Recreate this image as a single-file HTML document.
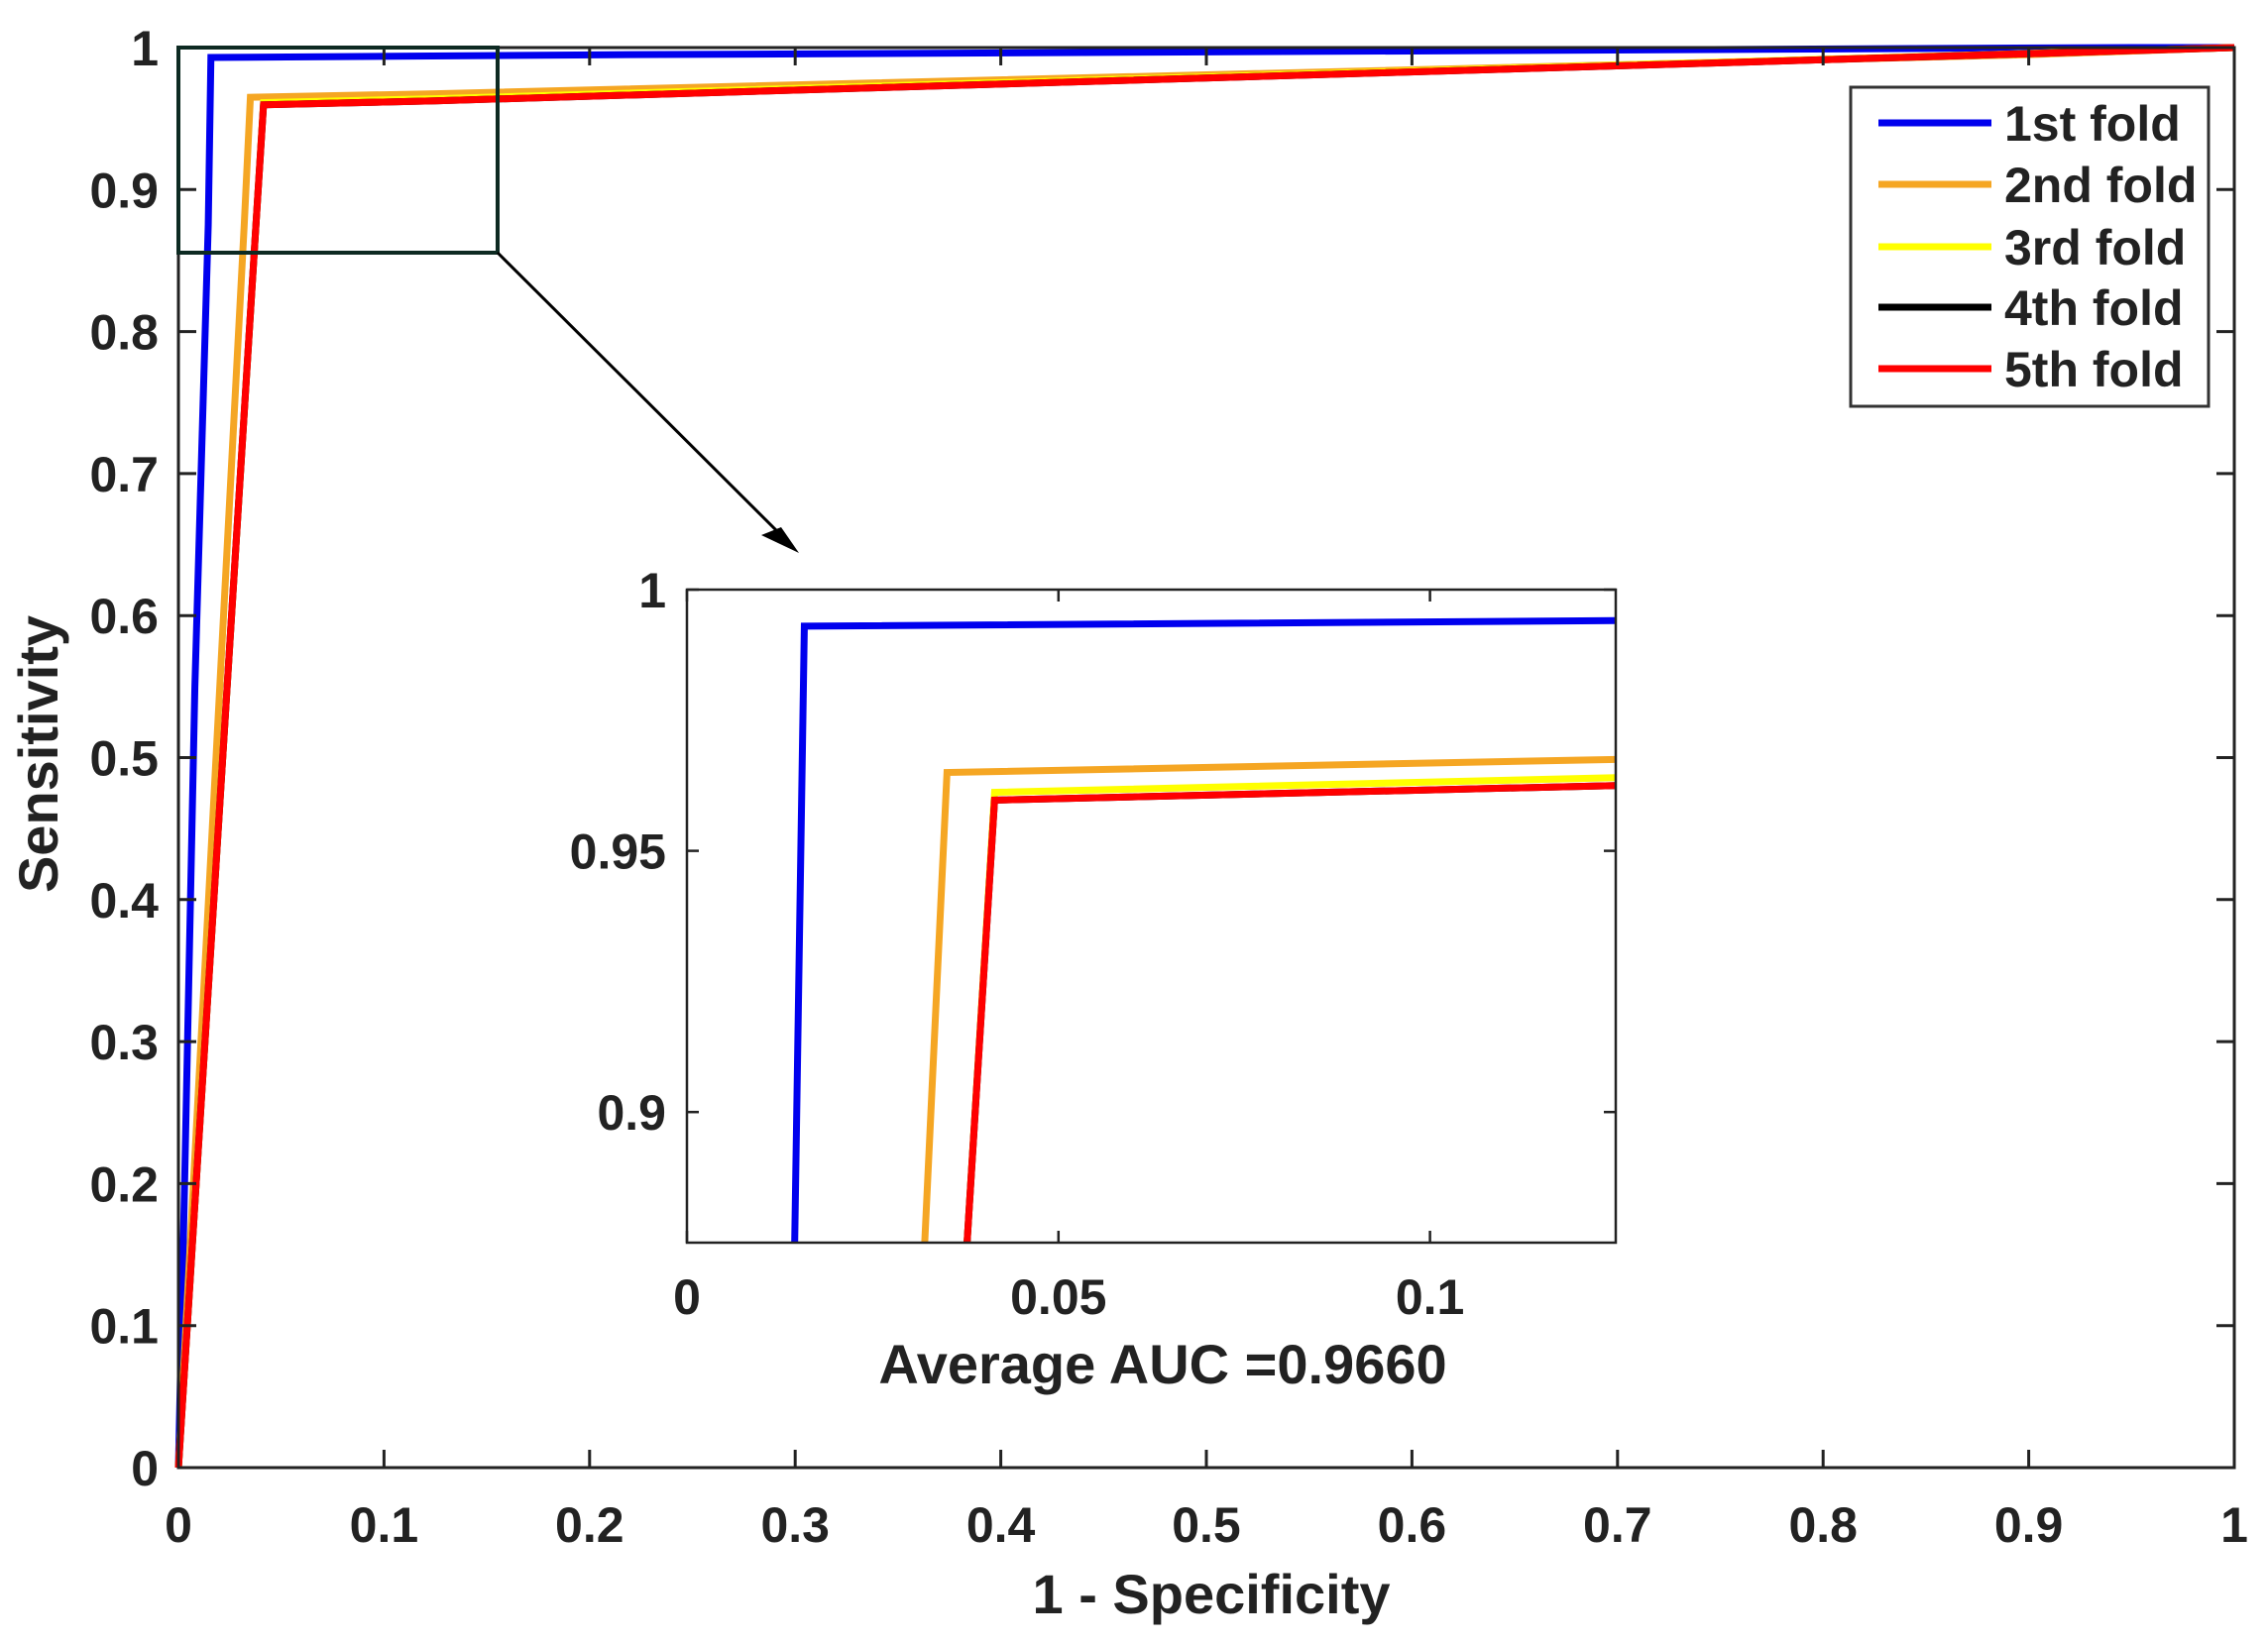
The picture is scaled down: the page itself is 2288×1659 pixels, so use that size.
<!DOCTYPE html>
<html><head><meta charset="utf-8"><style>
html,body{margin:0;padding:0;background:#fff;width:2288px;height:1659px;overflow:hidden}
svg{display:block}
text{font-family:"Liberation Sans",Arial,sans-serif;font-weight:bold;fill:#222}
</style></head><body>
<svg id="s" width="2288" height="1659" viewBox="0 0 2288 1659" xmlns="http://www.w3.org/2000/svg">
<defs><clipPath id="ic"><rect x="693" y="595" width="937" height="659"/></clipPath></defs>
<g id="main"></g>
<text x="1222" y="1628" font-size="56" text-anchor="middle">1 - Specificity</text>
<text transform="translate(58,761) rotate(-90)" font-size="56" text-anchor="middle">Sensitivity</text>
<rect x="180" y="48" width="322" height="207" fill="none" stroke="#0d2a22" stroke-width="4"/>
<line x1="502" y1="255" x2="800" y2="552" stroke="#000" stroke-width="3"/>
<path d="M806,558 L768,540 L788,532 z" fill="#000"/>
<rect x="693" y="595" width="937" height="659" fill="#fff"/>
<g id="inset"></g>
<text x="1173" y="1396" font-size="56" text-anchor="middle">Average AUC =0.9660</text>
<rect x="1867" y="88" width="361" height="322" fill="#fff" stroke="#333" stroke-width="3"/>
<g id="leg"></g>
</svg>
<script>
const NS="http://www.w3.org/2000/svg";
function el(p,t,a,txt){const e=document.createElementNS(NS,t);for(const k in a)e.setAttribute(k,a[k]);if(txt!==undefined)e.textContent=txt;p.appendChild(e);return e;}
const curves=[
 ["#0000ee",[[0,0],[0.003,0.2],[0.008,0.55],[0.0145,0.875],[0.0158,0.993],[0.22,0.995],[0.95,1],[1,1]]],
 ["#f5a623",[[0,0],[0.032,0.875],[0.035,0.965],[0.125,0.9675],[0.9,0.995],[1,1]]],
 ["#ffff00",[[0,0],[0.0377,0.875],[0.0414,0.9612],[0.125,0.964],[1,1]]],
 ["#000000",[[0,0],[0.0377,0.875],[0.0414,0.9597],[0.125,0.9625],[1,1]]],
 ["#ff0000",[[0,0],[0.0377,0.875],[0.0414,0.9597],[0.125,0.9625],[1,1]]]
];
const M=document.getElementById("main");
const X0=180,X1=2254,Y0=1481,Y1=48;
const mx=x=>X0+x*(X1-X0), my=y=>Y0-y*(Y0-Y1);
for(const [c,p] of curves){el(M,"polyline",{points:p.map(q=>mx(q[0])+","+my(q[1])).join(" "),fill:"none",stroke:c,"stroke-width":7});}
el(M,"rect",{x:X0,y:Y1,width:X1-X0,height:Y0-Y1,fill:"none",stroke:"#222","stroke-width":3});
for(let i=0;i<=10;i++){
 const x=mx(i/10),y=my(i/10);
 el(M,"line",{x1:x,y1:Y0,x2:x,y2:Y0-18,stroke:"#222","stroke-width":3});
 el(M,"line",{x1:x,y1:Y1,x2:x,y2:Y1+18,stroke:"#222","stroke-width":3});
 el(M,"line",{x1:X0,y1:y,x2:X0+18,y2:y,stroke:"#222","stroke-width":3});
 el(M,"line",{x1:X1,y1:y,x2:X1-18,y2:y,stroke:"#222","stroke-width":3});
 const lab=i==0?"0":i==10?"1":"0."+i;
 el(M,"text",{x:x,y:1556,"font-size":50,"text-anchor":"middle"},lab);
 el(M,"text",{x:160,y:y+18,"font-size":50,"text-anchor":"end"},lab);
}
const I=document.getElementById("inset");
const A0=693,A1=1630,B0=1254,B1=595;
const ix=x=>A0+x/0.125*(A1-A0), iy=y=>B0-(y-0.875)/0.125*(B0-B1);
const g=el(I,"g",{"clip-path":"url(#ic)"});
for(const [c,p] of curves){el(g,"polyline",{points:p.map(q=>ix(q[0])+","+iy(q[1])).join(" "),fill:"none",stroke:c,"stroke-width":7});}
el(I,"rect",{x:A0,y:B1,width:A1-A0,height:B0-B1,fill:"none",stroke:"#222","stroke-width":2.5});
[[0,"0"],[0.05,"0.05"],[0.1,"0.1"]].forEach(([v,l])=>{const x=ix(v);
 el(I,"line",{x1:x,y1:B0,x2:x,y2:B0-12,stroke:"#222","stroke-width":2.5});
 el(I,"line",{x1:x,y1:B1,x2:x,y2:B1+12,stroke:"#222","stroke-width":2.5});
 el(I,"text",{x:x,y:1326,"font-size":50,"text-anchor":"middle"},l);});
[[0.9,"0.9"],[0.95,"0.95"],[1,"1"]].forEach(([v,l])=>{const y=iy(v);
 el(I,"line",{x1:A0,y1:y,x2:A0+12,y2:y,stroke:"#222","stroke-width":2.5});
 el(I,"line",{x1:A1,y1:y,x2:A1-12,y2:y,stroke:"#222","stroke-width":2.5});
 el(I,"text",{x:672,y:y+18,"font-size":50,"text-anchor":"end"},l);});
const L=document.getElementById("leg");
const names=["1st fold","2nd fold","3rd fold","4th fold","5th fold"];
const ys=[124,186,249,310,372];
names.forEach((n,i)=>{el(L,"line",{x1:1895,y1:ys[i],x2:2009,y2:ys[i],stroke:curves[i][0],"stroke-width":7});
 el(L,"text",{x:2022,y:ys[i]+18,"font-size":50},n);});
</script>
</body></html>
